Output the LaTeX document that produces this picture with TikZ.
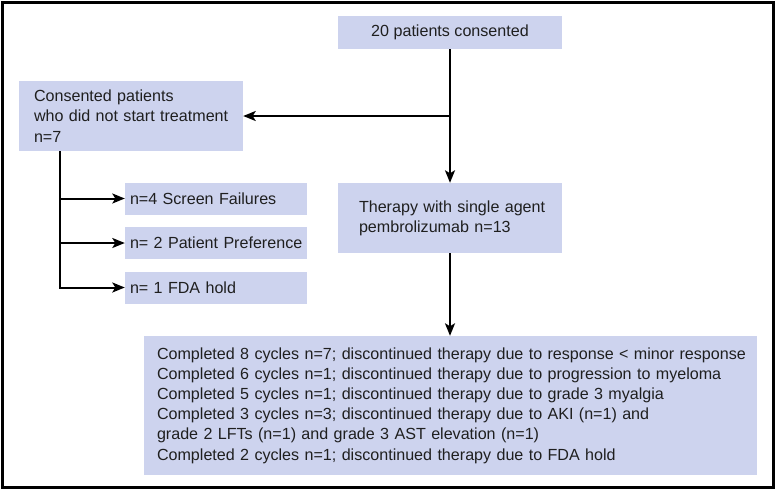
\documentclass[tikz,border=0pt]{standalone}
\usepackage{fontspec}
\setmainfont{Liberation Sans}
\usetikzlibrary{arrows.meta}
\definecolor{boxfill}{RGB}{205,211,238}
\newcommand{\oneline}[1]{\mbox{#1}}
\tikzset{
  fbox/.style={fill=boxfill, draw=none, rectangle, inner ysep=0pt, anchor=center,
    font=\fontsize{16.1}{20.2}\selectfont, text=black!88},
  arr/.style={draw=black, line width=2pt, -{Stealth[length=12.5pt,width=10pt,inset=3pt]}},
  plainline/.style={draw=black, line width=2pt}
}
\begin{document}
\begin{tikzpicture}[x=1pt,y=-1pt]
\useasboundingbox (0,0) rectangle (776,490);
\fill[white] (0,0) rectangle (776,490);
\draw[line width=3pt] (2,2) rectangle (773,487);

\node[fbox, minimum width=224pt, minimum height=33pt, align=center] (top) at (450,32.5) {20 patients consented};

\node[fbox, minimum width=224pt, minimum height=70pt, text width=194pt, inner xsep=15pt, align=left] (left) at (131,116)
  {\oneline{Consented patients}\\\oneline{who did not start treatment}\\\oneline{n=7}};

\node[fbox, minimum width=224pt, minimum height=70pt, text width=182pt, inner xsep=21pt, align=left] (ther) at (450,218)
  {\oneline{Therapy with single agent}\\\oneline{pembrolizumab n=13}};

\node[fbox, minimum width=182pt, minimum height=32pt, text width=172pt, inner xsep=5pt, align=left] (s1) at (216,198.5) {\oneline{n=4 Screen Failures}};
\node[fbox, minimum width=182pt, minimum height=32pt, text width=172pt, inner xsep=5pt, align=left] (s2) at (216,243) {\oneline{n= 2 Patient Preference}};
\node[fbox, minimum width=182pt, minimum height=32pt, text width=172pt, inner xsep=5pt, align=left] (s3) at (216,287.5) {\oneline{n= 1 FDA hold}};

\node[fbox, minimum width=613pt, minimum height=139pt, text width=587pt, inner xsep=13pt, align=left] (bot) at (450.5,405.5)
  {\oneline{Completed 8 cycles n=7; discontinued therapy due to response < minor response}\\
   \oneline{Completed 6 cycles n=1; discontinued therapy due to progression to myeloma}\\
   \oneline{Completed 5 cycles n=1; discontinued therapy due to grade 3 myalgia}\\
   \oneline{Completed 3 cycles n=3; discontinued therapy due to AKI (n=1) and}\\
   \oneline{grade 2 LFTs (n=1) and grade 3 AST elevation (n=1)}\\
   \oneline{Completed 2 cycles n=1; discontinued therapy due to FDA hold}};

\coordinate (j) at (top.south |- left.east);
\coordinate (lt) at ([xshift=41pt]left.south west);

\draw[arr] (top.south) -- (ther.north);
\draw[arr] (j) -- (left.east);
\draw[arr] (ther.south) -- (bot.north -| ther.south);
\draw[plainline] (lt) -- (lt |- s3.west);
\draw[arr] (lt |- s1.west) -- (s1.west);
\draw[arr] (lt |- s2.west) -- (s2.west);
\draw[arr] (lt) |- (s3.west);
\end{tikzpicture}
\end{document}
